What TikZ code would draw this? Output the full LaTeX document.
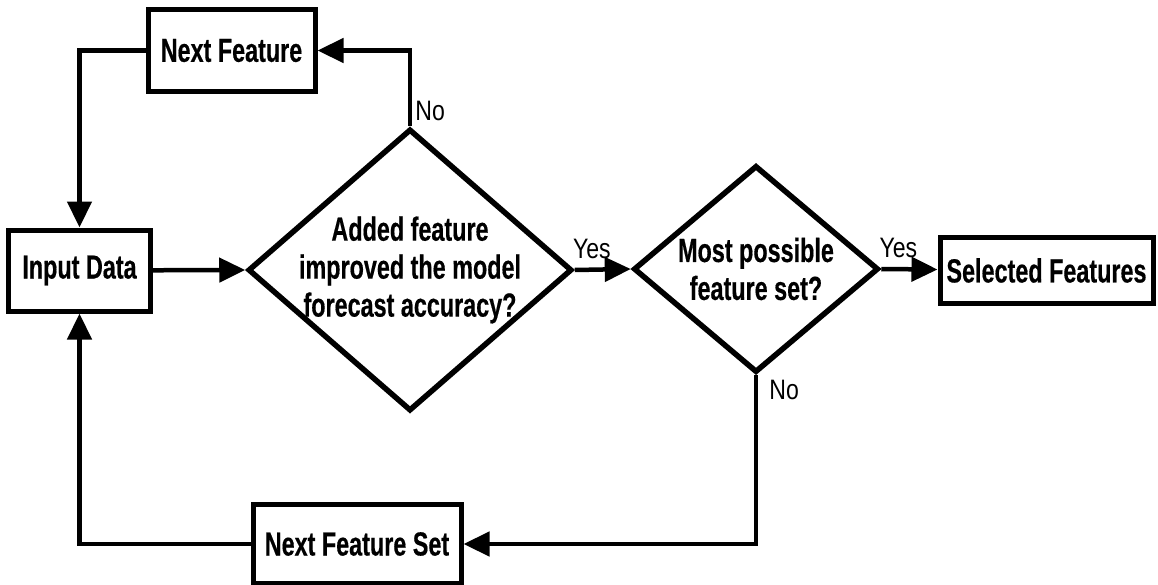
\documentclass[tikz,border=0pt]{standalone}
\usepackage{fontspec}
\setmainfont{Liberation Sans}[FakeStretch=0.7, BoldFeatures={FakeBold=0.4}]
\newfontfamily\etqfont{Liberation Sans}[FakeStretch=0.82]
\usetikzlibrary{positioning,arrows.meta,shapes.geometric}
\tikzset{
  caja/.style={rectangle, draw, line width=1mm, inner sep=0pt,
    minimum height=16.2mm, font=\fontsize{19}{21.6}\selectfont\bfseries},
  rombo/.style={diamond, draw, line width=1.1mm, inner sep=0pt},
  texto/.style={align=center, inner sep=0pt,
    font=\fontsize{19}{21.6}\selectfont\bfseries},
  flecha/.style={-{Triangle[length=5.2mm,width=4.8mm]}, line width=0.9mm},
  etq/.style={font=\etqfont\fontsize{16}{18}\selectfont, inner sep=1mm},
}

\begin{document}
\begin{tikzpicture}[x=0.2mm, y=-0.2mm]
  \useasboundingbox (0,0) rectangle (1158,584);
  \node[caja, minimum width=28.2mm] (input) at (79.5,270.5) {Input Data};
  \node[caja, minimum width=33.4mm] (nextf) at (231.5,50.5) {Next Feature};
  \node[rombo, minimum width=64.8mm, minimum height=56.4mm] (dec1) at (410,270) {};
  \node[texto] (dec1t) at (dec1) {Added feature\\improved the model\\forecast accuracy?};
  \node[rombo, minimum width=49mm, minimum height=41.4mm] (dec2) at (756,269) {};
  \node[texto] (dec2t) at (dec2) {Most possible\\feature set?};
  \node[caja, minimum width=42.6mm, minimum height=13.2mm] (sel) at (1046.5,270.5) {Selected Features};
  \node[caja, minimum width=41.6mm, minimum height=15.8mm] (nfs) at (357,544) {Next Feature Set};
  \draw[flecha] (input) -- (dec1.west);
  \draw[flecha] (dec1.east) -- (dec2.west);
  \draw[flecha] (dec2.east) -- (sel);
  \draw[flecha] (dec1.north) |- (nextf);
  \draw[flecha] (nextf) -| (input);
  \draw[flecha] (dec2.south) |- (nfs);
  \draw[flecha] (nfs) -| (input);
  \node[etq, anchor=south west, xshift=-1.4mm, yshift=1.1mm] (yes1) at (dec1.east) {Yes};
  \node[etq, anchor=south west, xshift=-1.4mm, yshift=1.1mm] (yes2) at (dec2.east) {Yes};
  \node[etq, anchor=south west] (no1) at (dec1.north) {No};
  \node[etq, anchor=north west, xshift=1.6mm] (no2) at (dec2.south) {No};
\end{tikzpicture}
\end{document}
